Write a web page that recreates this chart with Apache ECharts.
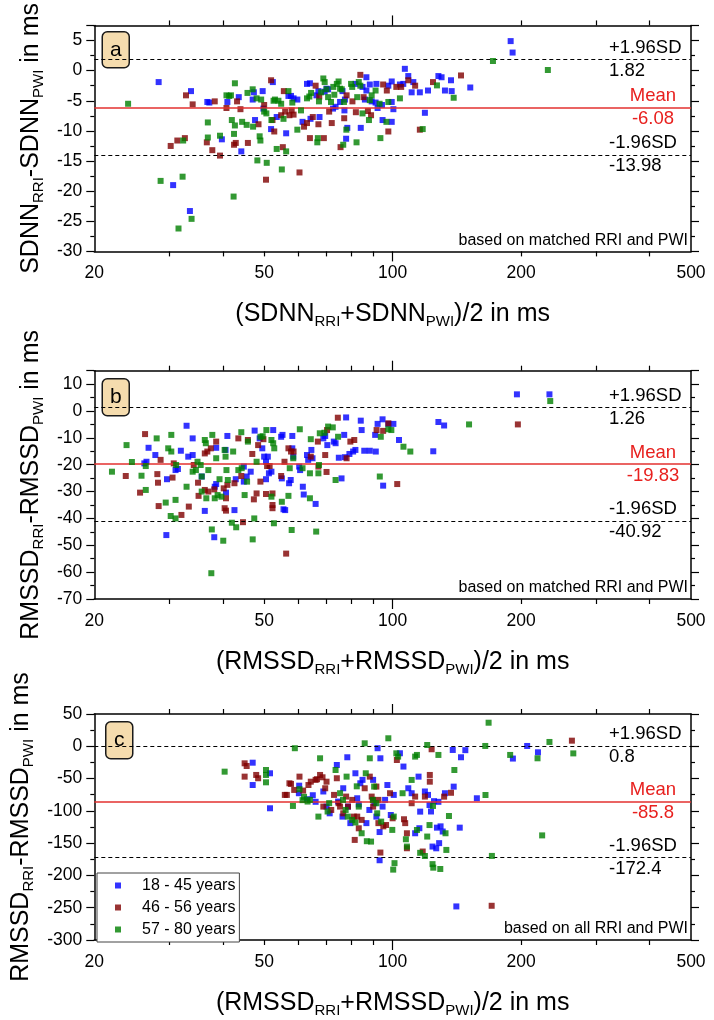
<!DOCTYPE html>
<html>
<head>
<meta charset="utf-8">
<script src="https://cdn.jsdelivr.net/npm/echarts@6/dist/echarts.min.js"></script>
<style>
  html, body { margin: 0; padding: 0; background: #fff; }
  #chart { width: 714px; height: 1020px; }
</style>
</head>
<body>
<div id="chart"></div>
<script>
// age groups
var groupNames = ['18 - 45 years', '46 - 56 years', '57 - 80 years'];
var groupColors = ['#0000ff', '#800000', '#008000'];

// x axis (log), labelled values and tick positions
var xLabelValues = [20, 50, 100, 200, 500];
var xShortTicks = [30, 40, 50, 60, 70, 80, 90, 200, 300, 400];
var xLongTicks = [100];

// [upper limit (+1.96SD), mean, lower limit (-1.96SD)]
var statsA = [1.82, -6.08, -13.98];
var statsB = [1.26, -19.83, -40.92];
var statsC = [0.8, -85.8, -172.4];

// panel a: SDNN, matched RRI and PWI
var aBlue = [[28.3,-1.9],[30.6,-19.0],[33.5,-23.3],[33.7,-3.4],[36.8,-5.2],[37.2,-5.3],[39.8,-11.4],[41,-5.2],[43.6,-4.4],[44.2,-13.4],[47,-4.8],[47.3,-3.6],[49.6,-3.4],[49.8,-6.3],[47.6,-8.2],[51.9,-9.7],[52.4,-1.9],[53.5,-7.7],[56.3,-10.4],[57,-4.2],[57.8,-4.2],[58.6,-4.6],[59.8,-4.8],[61.5,-8.5],[63,-2.2],[64,-2.1],[64.2,-8],[66.3,-4.1],[67,-3.4],[67.4,-7.7],[69.3,-3.5],[70,-3.0],[70.6,-3.1],[72.5,-6.3],[73.5,-6.0],[75.3,-5.2],[76.3,-3.4],[77.3,-4.8],[77.1,-6.6],[78.3,-9.5],[77.8,-11.3],[81.8,-2.2],[84.2,-9.5],[85,-2.7],[86.1,-4.8],[86.8,-1.1],[86.8,-3.3],[88.4,-2.3],[89.3,-5.1],[91.2,-5.3],[91.6,-2.2],[92.2,-6.2],[94.4,-5.7],[94.7,-8.2],[97.7,-2.5],[99.5,-1.8],[100.4,-6.4],[99.5,-8.5],[99.5,-5.2],[104,-2.3],[105.9,-2.2],[106.8,0.3],[108.8,-0.9],[110.8,-3.6],[111.8,-1.9],[115.8,-3.6],[119,-7.0],[121,-3.3],[128,-0.9],[130.2,-1.1],[132.6,-3.3],[137,-1.6],[137.5,-3.4],[152,-2.8],[189,4.9],[191,3.0]];
var aRed = [[30.2,-12.5],[31.3,-11.6],[32.6,-11.2],[32.8,-4.1],[34,-5.6],[36.7,-11.9],[37.8,-13.2],[38.3,-5.1],[39.4,-14.1],[40.8,-6.2],[42.5,-12.3],[42.9,-12.0],[43.2,-5.1],[44,-6.4],[45.8,-12.0],[48.5,-8.9],[50,-5.7],[50.5,-18.1],[51.9,-1.6],[52.3,-8.2],[52.8,-10.1],[54.8,-7.4],[55.3,-12.7],[55.6,-3.4],[56,-6.8],[57.3,-7.4],[58,-6.6],[58.6,-7.3],[60.5,-16.9],[62,-9.3],[63,-8.7],[65,-7.7],[64,-11.2],[66,-2.5],[67,-8.9],[67.3,-4.3],[69,-11.2],[71,-6.8],[72,-8.7],[75.5,-12.7],[77,-7.9],[78,-4.1],[80.5,-5.1],[82,-6.9],[84,-0.7],[85.5,-4.4],[87.5,-6.7],[89,-7.4],[95,-2.3],[96.9,-3.3],[97.7,-10.1],[102,-2.7],[104.7,-2.7],[108.8,-1.6],[112.9,-2.5],[115.8,-9.8],[124.3,-1.9],[144.6,-0.8]];
var aGreen = [[24,-5.5],[28.6,-18.3],[31.5,-26.2],[32.2,-17.6],[33.8,-24.6],[32.3,-11.6],[36.9,-8.6],[36.9,-11.1],[39.4,-10.8],[40.8,-4.1],[41.4,-4.2],[41.8,-4.1],[42.7,-2.1],[42,-8.2],[42.7,-9.1],[42.5,-10.5],[42.4,-20.9],[44.4,-8.5],[45.5,-9.0],[45.7,-3.7],[47,-3.1],[47.1,-9.3],[48.2,-14.9],[48.8,-10.9],[49,-11.6],[48,-4.6],[49.2,-4.8],[50.7,-15.3],[50,-6.8],[50.6,-7.1],[52,-8.2],[52.6,-5.0],[53,-4.8],[54,-5.0],[54.8,-5.5],[53.5,-13.0],[55,-16.4],[55.5,-8.0],[56.3,-13.4],[57,-3.4],[58.2,-5.3],[59.8,-9.8],[61,-6.6],[63,-4.6],[63.8,-4.3],[64.4,-3.7],[66.8,-11.2],[66.6,-11.9],[67.2,-5.1],[68,-3.6],[68.8,-1.3],[69.3,-1.9],[70,-3.1],[70.6,-4.4],[71.7,-5.2],[72.6,-2.7],[73,-4.0],[74,-2.2],[75.3,-3.0],[74.7,-1.8],[76,-3.1],[76.6,-12.3],[76.9,-5.2],[77.9,-9.8],[79.9,-2.2],[80.4,-2.7],[82.3,-11.9],[82.6,-4.4],[83.3,-1.9],[84,-2.5],[85,-7.1],[88,-8.2],[88.4,-4.9],[89.3,-4.1],[91.2,-3.3],[93.2,-5.5],[93.6,-11.2],[96.7,-8.5],[97.7,-5.2],[104,-4.6],[117.6,-9.7],[127,-2.45],[139,-4.5],[171.8,1.6],[231,0.1]];

// panel b: RMSSD, matched RRI and PWI
var bBlue = [[26.2,-19.5],[26.5,-18.9],[26.8,-13.7],[27.8,-16.4],[29.5,-46.2],[29.6,-25.4],[31,-22],[31.4,-21.6],[31.9,-14.8],[32.9,-5.5],[33.2,-17],[34,-10.2],[34,-16.4],[35.7,-24.4],[36.3,-37.2],[38.2,-47],[38.3,-28.2],[38.6,-27.2],[38.6,-13.7],[40.6,-14.5],[40.7,-30.4],[41,-9.3],[42.6,-36.9],[42.9,-25.4],[44.8,-26.3],[44.8,-20.7],[45.5,-24.4],[46.5,-22.6],[47.5,-7.3],[48.8,-10.2],[49.5,-13.9],[50,-17],[50.5,-18.9],[51,-17],[51.3,-23.2],[52,-22.6],[50.5,-25.4],[52.5,-7.1],[54.8,-9.6],[55.2,-8.9],[55,-25.1],[55.5,-36.6],[56,-36.9],[57.2,-26.9],[57.7,-25.7],[58.2,-9.3],[58.2,-13.9],[58.5,-17],[60.4,-20.7],[60.7,-22],[61.6,-28.2],[61.9,-31.1],[63,-16.4],[63.4,-18.2],[64.5,-14.5],[64.9,-17.6],[66,-34.6],[68.8,-10.2],[69.5,-9.3],[70.3,-12.7],[72.8,-11.4],[73.5,-12],[74.8,-17.4],[75.9,-25.1],[77,-8.9],[77.8,-2.4],[77.3,-17.2],[79.2,-16],[80.8,-15.1],[81.8,-14.5],[84.2,-3.6],[84.6,-7.1],[85.8,-14.8],[88.4,-14.8],[91,-8.9],[91.3,-15.1],[92.2,-4.8],[94.7,-3.1],[95,-27.8],[97.7,-4.8],[100.4,-4.8],[103.5,-10.8],[124.5,-15],[128,-4.1],[132,-5.4],[195.5,6.2],[233,6.2]];
var bRed = [[23.7,-24.2],[25.6,-30.4],[26.3,-8.6],[28.1,-23.5],[28.2,-26.7],[28.3,-35.4],[28.6,-18.2],[30.5,-24.8],[30.7,-19.5],[32,-38.7],[33.3,-35.6],[34.2,-20.1],[35,-26.7],[35.1,-31.6],[36.3,-29.4],[36.3,-15.8],[36.8,-15.1],[37,-30],[37.5,-13.9],[38.2,-29.2],[38.6,-11.4],[40.2,-28.8],[40.4,-36.2],[40.7,-37.1],[40.7,-32.5],[41,-27.5],[42.6,-26.9],[43.5,-10.2],[44.2,-24.2],[44.6,-41.4],[45.8,-10.8],[46.9,-16],[47.3,-32.9],[48,-30.7],[48.4,-12.7],[49,-26.3],[49.8,-10.5],[50.5,-30.9],[50.8,-20.5],[51.5,-20.5],[52.3,-35],[52.3,-36.2],[52.3,-30.7],[54.8,-24.2],[55.8,-18.9],[56.3,-53.1],[57,-13.9],[57.8,-15.1],[58.6,-15.1],[64.3,-17],[66.8,-11.4],[67,-20.7],[69.5,-16.4],[70,-22.7],[70.2,-7.1],[74.4,-2.5],[78,-17.6],[79.6,-11.4],[81.3,-10.8],[91.7,-7.1],[95,-7.4],[97.7,-4.6],[102.5,-27.2],[196.5,-5]];
var bGreen = [[22,-22.6],[23.8,-12.7],[24.5,-19],[25.8,-24.1],[26.4,-20.5],[26.4,-29.4],[28,-10.2],[29.4,-34.1],[30.2,-39.1],[31,-40],[29.8,-13.9],[30.3,-15.1],[30.3,-8.9],[31,-33.1],[31.1,-20.1],[32.9,-28.2],[34,-22.6],[34.6,-22],[34.9,-18.9],[35.5,-20.1],[35.7,-24.4],[35.7,-30],[36.3,-10.8],[36.5,-12],[36.6,-32.5],[37,-22],[37.7,-44.1],[37.8,-8.9],[37.6,-60.4],[38.3,-32.5],[38.9,-31.3],[38.6,-17.6],[39.3,-25.4],[39.7,-31.9],[40.1,-48.3],[40.4,-14.5],[40.6,-17],[40.8,-22],[41.1,-25.7],[42,-41.6],[42.3,-15.1],[43,-43.3],[43.5,-22],[44.3,-21.3],[44.2,-7.9],[45,-31.3],[45.6,-26.3],[45.8,-11.4],[47,-47.8],[47.4,-40],[48,-18.9],[49,-9.6],[49.6,-9.4],[50.6,-7.1],[52,-10.8],[52.5,-12],[52.8,-13.9],[52,-31.9],[52.7,-41.8],[55,-33.8],[57,-31.6],[58,-44.3],[58.5,-17.6],[57.4,-21.3],[60.6,-6.8],[61.5,-21.3],[64,-32.5],[64,-23.2],[64.3,-10.5],[66.2,-44.9],[67.2,-20.1],[67,-23.2],[67.5,-8.3],[69.2,-8.1],[70.6,-5.8],[72.4,-6.1],[73.5,-25.7],[74.5,-9.6],[93.3,-24.4],[93.8,-9.6],[97.7,-6.8],[99.3,-7.1],[106,-13.3],[110,-15.1],[151,-5],[234,3.7]];

// panel c: RMSSD, all RRI and PWI
var cBlue = [[47,-25.4],[47,-60],[51.6,-41.8],[51.6,-96],[60.4,-61],[60.3,-72.7],[63,-82],[66,-86],[65,-75.8],[68.8,-70],[70,-93.4],[71.2,-103.8],[74,-29],[74.5,-85.6],[76.3,-108.9],[76.6,-65],[78.3,-17],[78.6,-93.4],[79.6,-119],[81.8,-41.8],[82.6,-80.5],[83.3,-90],[84,-57.3],[85,-52],[86.8,-119],[88.2,-98.6],[90,-52],[90.6,-88.2],[91.6,-108.9],[92.2,-3],[93.6,-18.6],[94.7,-93.4],[96,-83],[93.2,-132.8],[93.2,-176.5],[97.2,-60],[99,-106.4],[100.6,-75.3],[104,-10.8],[106,-31.4],[108.8,-65],[110.8,-72.7],[112.9,-134.7],[115,-47],[116,-101.2],[115.5,-126.9],[119,-70],[121,-75.3],[122,-91],[123,-101],[124,-155.3],[125,-85],[126.5,-158],[127,-126],[128,-86],[128.5,-150],[129.5,-124],[131,-132],[132.6,-72.7],[138.3,-5.7],[139,-62.5],[141,-248],[143.6,-126],[144.6,-17],[148,-6],[157.5,-80.5],[191.3,-19],[206.6,0.5],[219,-9.3]];
var cRed = [[45,-26.4],[45.5,-30.5],[45,-47],[47.9,-44.4],[48.4,-49.5],[55.9,-75.3],[56.5,-75.3],[57.3,-57.3],[57.8,-58.3],[58.8,-67.6],[60.5,-47],[61.7,-68.6],[63.5,-60],[64.3,-54.8],[66,-52],[66.5,-51],[67.6,-44.4],[68.5,-48],[68.8,-93.4],[69.5,-65],[70,-54.8],[71.8,-98.6],[72.9,-75.3],[74,-49.5],[74.7,-88.2],[75.3,-93.4],[76.6,-103.8],[77.8,-77.9],[78.6,-93.4],[80.4,-83],[81.1,-108.9],[81.5,-145],[82.6,-108.9],[83.3,-127],[84.6,-114],[86,-65],[88.4,-47],[89.3,-77.9],[89.9,-83],[90,-93.4],[91.6,-62.4],[92.6,-83],[92.6,-119],[93.6,-164.6],[95.1,-124],[96.5,-121.9],[98.6,-72.7],[100,-111.5],[102.3,-21.2],[106.3,-113],[107,-119],[108,-134.7],[108,-157.9],[110.8,-88.2],[112.9,-77.9],[117.6,-163],[119,-77.9],[122.2,-44.4],[122.2,-54.8],[123.4,-4.6],[132,-78],[137,-72],[170.6,-247],[263,8.7]];
var cGreen = [[40.4,-39.3],[50.5,-36.7],[50.5,-44.4],[50.5,-55.8],[59,-3],[58.4,-92.4],[60.5,-66.5],[62,-78.3],[61.5,-83.4],[63.2,-85.6],[64,-83],[67.6,-18.6],[67,-108.9],[70.4,-101],[71,-88],[73.5,-36.7],[75.3,-72.7],[76.5,-83],[78,-47],[77.6,-98.6],[78.5,-108.9],[80.4,-114],[81.8,-118],[82.4,-62],[83.3,-93.4],[84.6,-134.7],[86,4.6],[86.5,-41.8],[88.4,-18.6],[89,-147.6],[87,-147],[89.9,-83],[91.6,-88.2],[90.5,-62.4],[92,-103.8],[94,-116.7],[97.7,12.4],[99.8,-129.5],[100.6,-108.9],[100.3,-191],[101,-181],[102,-10.9],[103,-16],[105.5,-72.7],[107.4,-144],[108,-155.3],[110.8,-52.1],[112.9,-16],[114,-13.4],[114,-129.6],[116,-165],[119,-169.9],[120.5,-139.8],[120.5,2],[122,-122],[124.3,-92.4],[124,-182.5],[124.5,-188],[128,-13.4],[129.3,-190],[133,-134.7],[133.6,-160.5],[135.5,-108],[139.5,-36.7],[164.8,0.5],[165,-75.4],[167.8,36.5],[170.8,-169.8],[188.5,-13.4],[218.5,-18.6],[224,-138],[233,6.7],[265,-11]];

var FONT = '"Liberation Sans", Arial, Helvetica, sans-serif';

var panels = [
  { letter: 'a', top: 22.6, height: 228.8, yMin: -30, yMax: 7.5, yStep: 5, stats: statsA,
    groups: [aBlue, aRed, aGreen],
    yName: '{n|SDNN}{s|RRI}{n|-SDNN}{s|PWI}{n| in ms}',
    xName: '{n|(SDNN}{s|RRI}{n|+SDNN}{s|PWI}{n|)/2 in ms}',
    note: 'based on matched RRI and PWI', box: [101.5, 31, 27, 36] },
  { letter: 'b', top: 370.7, height: 228.3, yMin: -70, yMax: 15, yStep: 10, stats: statsB,
    groups: [bBlue, bRed, bGreen],
    yName: '{n|RMSSD}{s|RRI}{n|-RMSSD}{s|PWI}{n| in ms}',
    xName: '{n|(RMSSD}{s|RRI}{n|+RMSSD}{s|PWI}{n|)/2 in ms}',
    note: 'based on matched RRI and PWI', box: [101.5, 378, 27, 37] },
  { letter: 'c', top: 714, height: 226, yMin: -300, yMax: 50, yStep: 50, stats: statsC,
    groups: [cBlue, cRed, cGreen],
    yName: '{n|RMSSD}{s|RRI}{n|-RMSSD}{s|PWI}{n| in ms}',
    xName: '{n|(RMSSD}{s|RRI}{n|+RMSSD}{s|PWI}{n|)/2 in ms}',
    note: 'based on all RRI and PWI', box: [105, 721, 27, 37] }
];

var GRID_LEFT = 94.3, GRID_RIGHT = 23;

var nameStyle = {
  fontFamily: FONT, color: '#000', fontSize: 25,
  rich: {
    n: { fontFamily: FONT, color: '#000', fontSize: 25, lineHeight: 30 },
    s: { fontFamily: FONT, color: '#000', fontSize: 15, lineHeight: 17, verticalAlign: 'bottom' }
  }
};
var frameLine = { show: true, onZero: false, lineStyle: { color: '#000', width: 1.5 } };
var tickLine = { color: '#000', width: 1.2 };

function xAxisPair(i, pos, withLabels, p) {
  var base = { type: 'log', logBase: 10, min: 20, max: 500, gridIndex: i, position: pos,
    splitLine: { show: false }, minorTick: { show: false }, minorSplitLine: { show: false } };
  var shortAx = Object.assign({}, base, {
    axisLine: frameLine,
    axisTick: { show: true, inside: false, length: 5, customValues: xShortTicks, lineStyle: tickLine },
    axisLabel: withLabels
      ? { show: true, customValues: xLabelValues, fontSize: 17.5, color: '#000', fontFamily: FONT, margin: 13 }
      : { show: false }
  });
  if (withLabels) {
    shortAx.name = p.xName;
    shortAx.nameLocation = 'middle';
    shortAx.nameGap = 48;
    shortAx.nameTextStyle = nameStyle;
  }
  var longAx = Object.assign({}, base, {
    axisLine: { show: false, onZero: false },
    axisTick: { show: true, inside: false, length: 10, customValues: xLongTicks, lineStyle: tickLine },
    axisLabel: { show: false }
  });
  return [shortAx, longAx];
}

function yAxisFor(i, pos, p) {
  var ax = { type: 'value', gridIndex: i, position: pos, min: p.yMin, max: p.yMax, interval: p.yStep,
    axisLine: frameLine,
    axisTick: { show: true, inside: false, length: 8, lineStyle: tickLine },
    minorTick: { show: true, splitNumber: 2, length: 4, lineStyle: tickLine },
    splitLine: { show: false }, minorSplitLine: { show: false },
    axisLabel: { show: false } };
  if (pos === 'left') {
    ax.axisLabel = { show: true, fontSize: 17.5, color: '#000', fontFamily: FONT, margin: 12,
      showMaxLabel: p.yMax % p.yStep === 0 };
    ax.name = p.yName;
    ax.nameLocation = 'middle';
    ax.nameRotate = 90;
    ax.nameGap = 48;
    ax.nameTextStyle = nameStyle;
  }
  return ax;
}

function statLabel(text, pos, color, align) {
  // fixed-width box so the SD texts line up on their left edge, the mean texts on their centre
  var w = align === 'center' ? 72 : 80;
  return { show: true, position: pos, distance: [2, 1],
    formatter: '{t|' + text + '}',
    rich: { t: { width: w, align: align, fontSize: 18.5, color: color, fontFamily: FONT, lineHeight: 21 } } };
}

function statLines(s) {
  var dash = { color: '#000', type: [4, 3], width: 1.2 };
  var red = { color: '#e3302f', type: 'solid', width: 1.5 };
  var hidden = { color: 'rgba(0,0,0,0)', width: 0 };
  return [
    { yAxis: s[0], lineStyle: dash, label: statLabel('+1.96SD', 'insideEndTop', '#000', 'left') },
    { yAxis: s[0], lineStyle: hidden, label: statLabel(String(s[0]), 'insideEndBottom', '#000', 'left') },
    { yAxis: s[1], lineStyle: red, label: statLabel('Mean', 'insideEndTop', '#e8201e', 'center') },
    { yAxis: s[1], lineStyle: hidden, label: statLabel(String(s[1]), 'insideEndBottom', '#e8201e', 'center') },
    { yAxis: s[2], lineStyle: dash, label: statLabel('-1.96SD', 'insideEndTop', '#000', 'left') },
    { yAxis: s[2], lineStyle: hidden, label: statLabel(String(s[2]), 'insideEndBottom', '#000', 'left') }
  ];
}

var grids = [], xAxes = [], yAxes = [], series = [], graphics = [];

panels.forEach(function (p, i) {
  grids.push({ left: GRID_LEFT, right: GRID_RIGHT, top: p.top, height: p.height, containLabel: false });
  xAxes = xAxes.concat(xAxisPair(i, 'bottom', true, p), xAxisPair(i, 'top', false, p));
  yAxes.push(yAxisFor(i, 'left', p), yAxisFor(i, 'right', p));

  p.groups.forEach(function (data, g) {
    var s = {
      type: 'scatter', name: groupNames[g], xAxisIndex: 4 * i, yAxisIndex: 2 * i,
      data: data, symbol: 'rect', symbolSize: 6,
      itemStyle: { color: groupColors[g] }, z: 3 + g
    };
    if (g === 0) {
      s.markLine = { silent: true, symbol: 'none', animation: false, data: statLines(p.stats) };
    }
    series.push(s);
  });

  // panel letter box
  graphics.push({
    type: 'group', left: p.box[0], top: p.box[1],
    children: [
      { type: 'rect', shape: { x: 0, y: 0, width: p.box[2], height: p.box[3], r: 5 },
        style: { fill: '#f5dcae', stroke: '#1a1a1a', lineWidth: 1.5 } },
      { type: 'text', x: p.box[2] / 2, y: p.box[3] / 2,
        style: { text: p.letter, fill: '#000', font: '21px ' + FONT, align: 'center', verticalAlign: 'middle' } }
    ]
  });
  // note at bottom right
  graphics.push({
    type: 'text', x: 688, y: p.top + p.height - 11,
    style: { text: p.note, fill: '#000', font: '16px ' + FONT, align: 'right', verticalAlign: 'middle' }
  });
});

var chart = echarts.init(document.getElementById('chart'), null, { renderer: 'canvas' });
chart.setOption({
  animation: false,
  backgroundColor: '#fff',
  textStyle: { fontFamily: FONT },
  grid: grids,
  xAxis: xAxes,
  yAxis: yAxes,
  legend: {
    data: groupNames, orient: 'vertical', left: 97, top: 873,
    padding: [4.5, 4, 4.5, 18], itemGap: 6, itemWidth: 6, itemHeight: 6, icon: 'rect',
    borderColor: '#444', borderWidth: 1, backgroundColor: '#fff', selectedMode: false,
    textStyle: { fontSize: 16, color: '#000', fontFamily: FONT, lineHeight: 14, padding: [0, 0, 0, 16] }
  },
  graphic: graphics,
  series: series
});
</script>
</body>
</html>
